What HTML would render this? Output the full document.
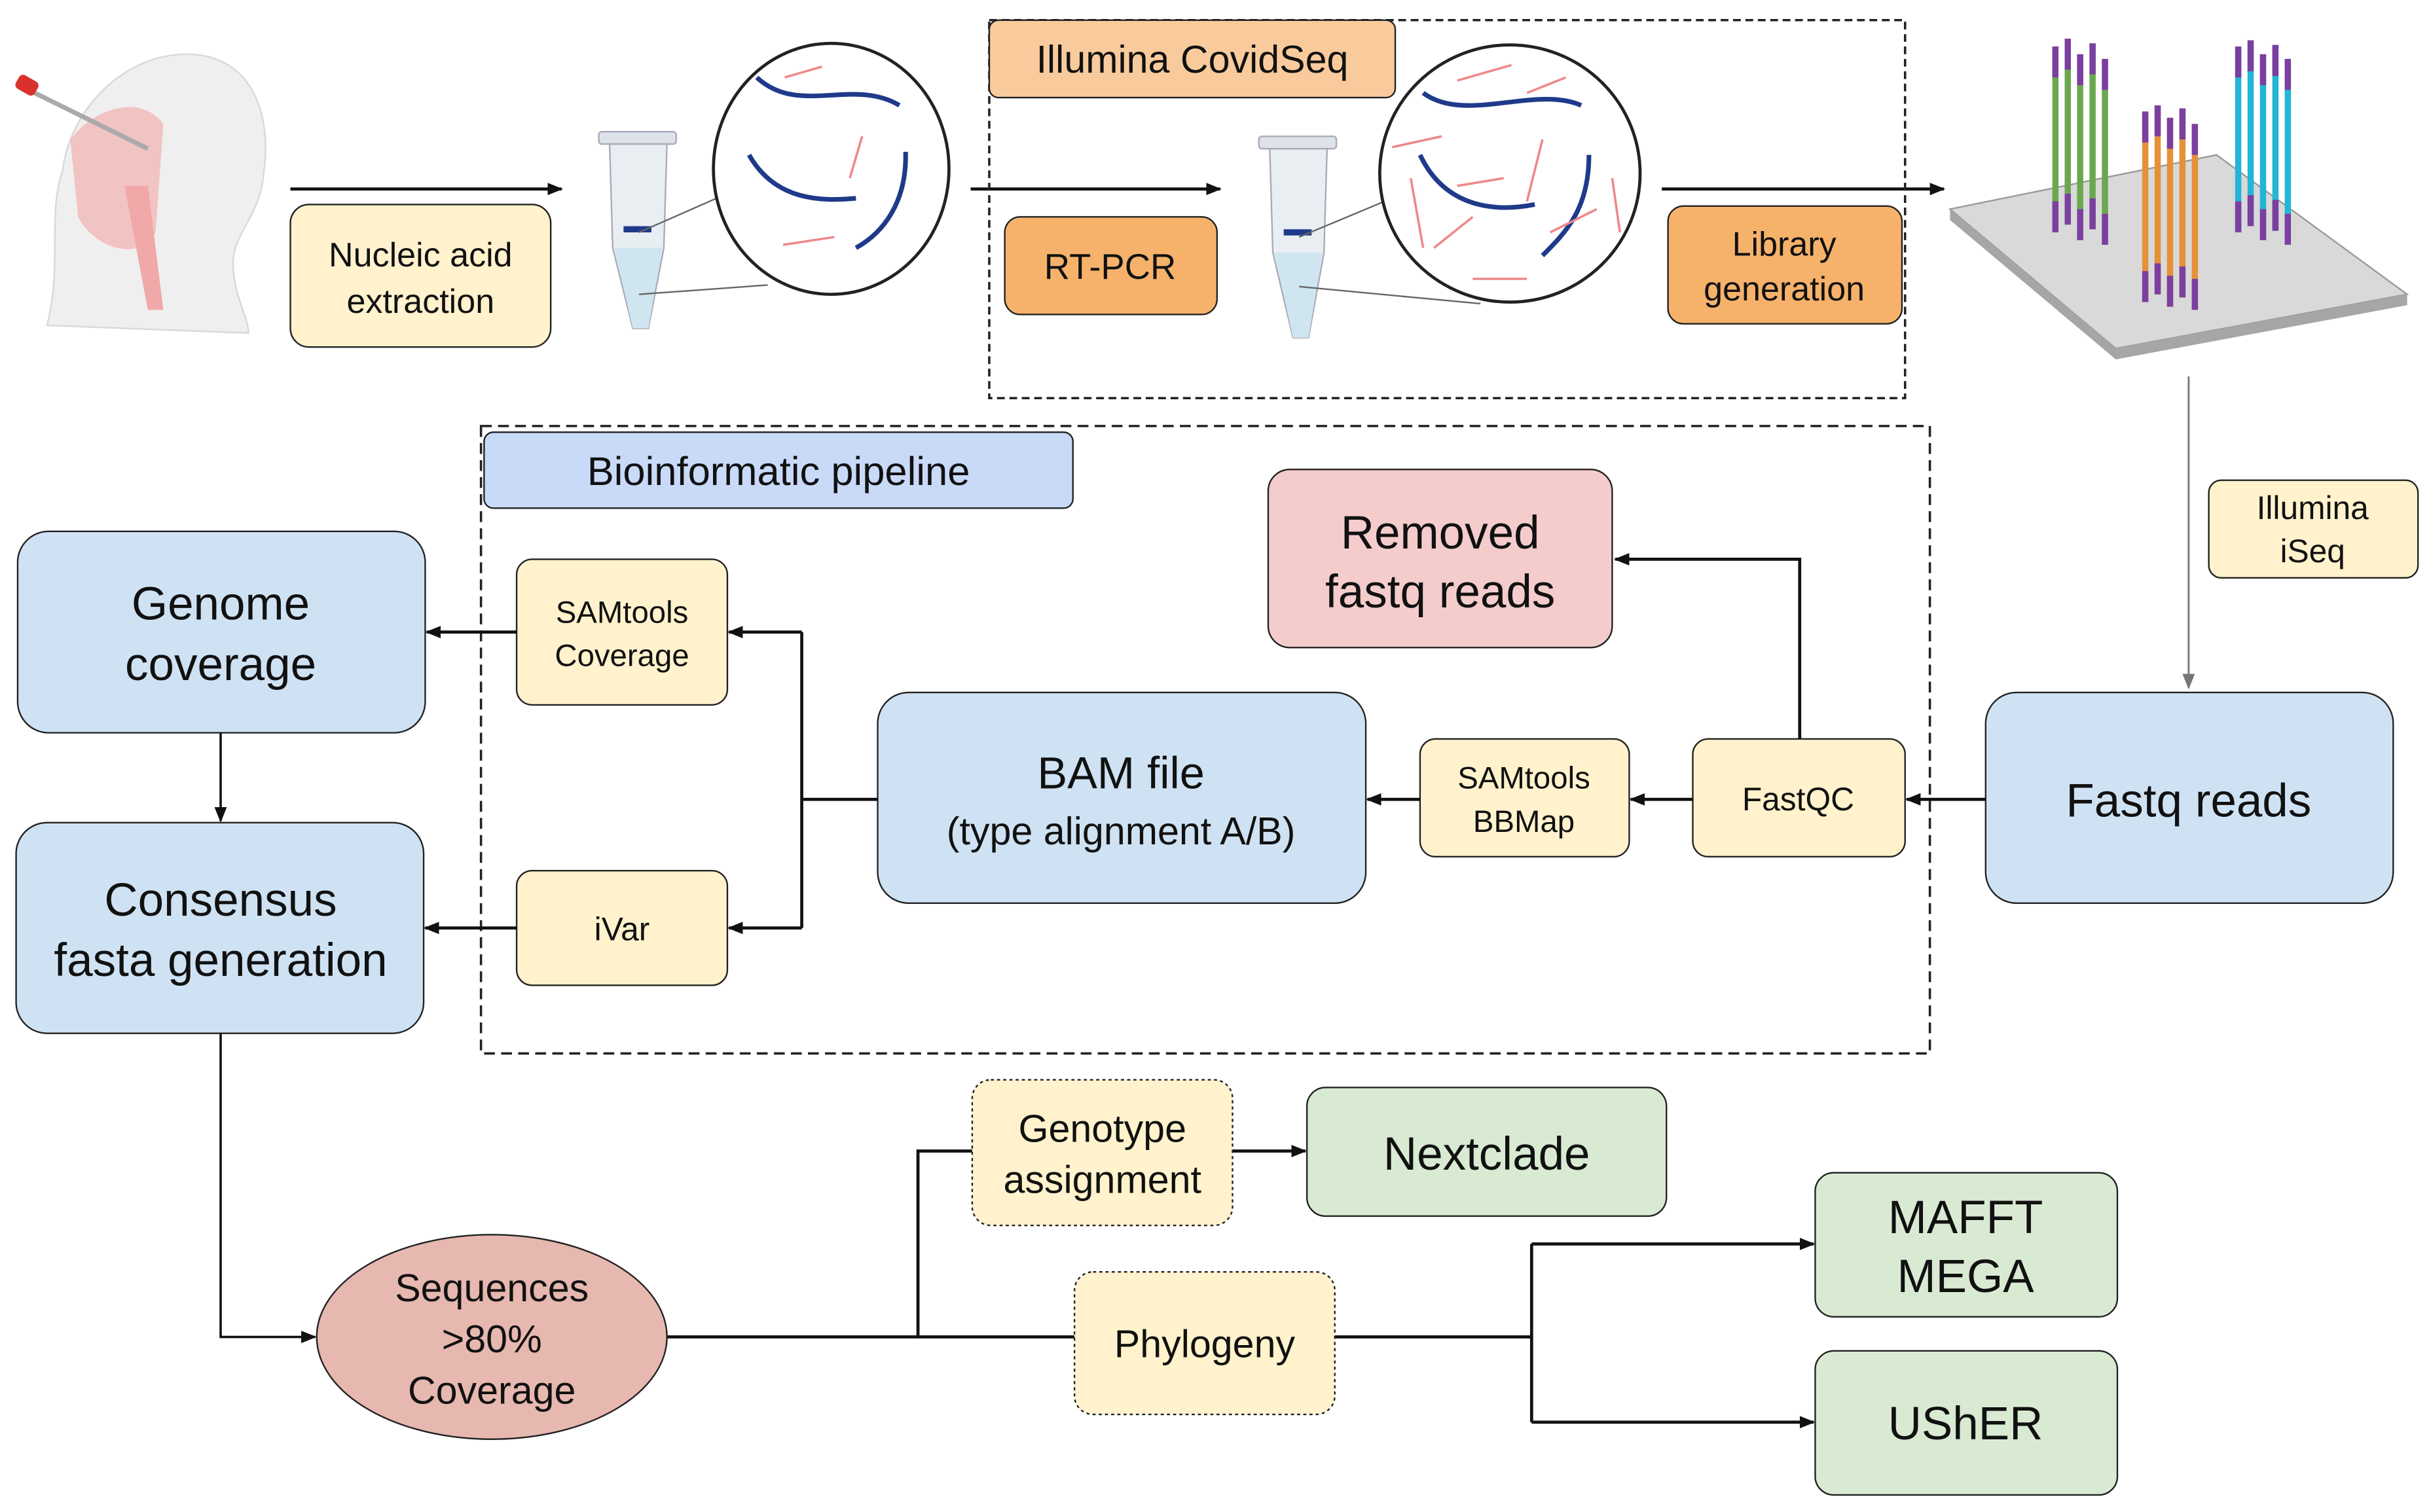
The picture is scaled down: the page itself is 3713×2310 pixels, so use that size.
<!DOCTYPE html>
<html><head><meta charset="utf-8"><style>
html,body{margin:0;padding:0;background:#fff;}
svg{display:block;}
text{font-family:"Liberation Sans",Arial,sans-serif;fill:#111;}
</style></head><body>
<svg width="3713" height="2310" viewBox="0 0 1568 976" xmlns="http://www.w3.org/2000/svg">
<defs>
<marker id="a" markerWidth="10" markerHeight="10" refX="9" refY="5" orient="auto" markerUnits="userSpaceOnUse"><path d="M0,1 L10,5 L0,9 Z" fill="#111"/></marker>
<marker id="g" markerWidth="10" markerHeight="10" refX="9" refY="5" orient="auto" markerUnits="userSpaceOnUse"><path d="M1,0 L5,10 L9,0 Z" transform="rotate(-90 5 5)" fill="#777"/></marker>
</defs>
<rect width="1568" height="976" fill="#fff"/>

<!-- head illustration -->
<g>
<path d="M30,210 C40,170 30,140 40,110 C45,70 80,35 120,35 C160,35 175,70 170,110 C168,140 150,150 150,170 C150,190 160,205 160,215 Z" fill="#efefef" stroke="#d8d8d8"/>
<path d="M45,90 C60,70 90,60 105,80 L100,150 C90,170 60,160 50,140 Z" fill="#f2b8b8" opacity="0.8"/>
<path d="M80,120 L95,200 L105,200 L95,120 Z" fill="#f0a8a8"/>
<line x1="18" y1="58" x2="95" y2="96" stroke="#aaa" stroke-width="3"/>
<rect x="10" y="50" width="14" height="10" rx="3" fill="#d9312b" transform="rotate(30 17 55)"/>
</g>

<!-- arrows top -->
<line x1="187" y1="122" x2="362" y2="122" stroke="#111" stroke-width="2" marker-end="url(#a)"/>
<line x1="626" y1="122" x2="787" y2="122" stroke="#111" stroke-width="2" marker-end="url(#a)"/>
<line x1="1072" y1="122" x2="1254" y2="122" stroke="#111" stroke-width="2" marker-end="url(#a)"/>

<!-- box: nucleic acid -->
<rect x="187" y="132" width="168" height="92" rx="12" fill="#fff2cc" stroke="#222"/>
<text x="271" y="172" font-size="22" text-anchor="middle">Nucleic acid</text>
<text x="271" y="202" font-size="22" text-anchor="middle">extraction</text>

<!-- tube 1 -->
<g>
<rect x="386" y="85" width="50" height="8" rx="2" fill="#dde3e8" stroke="#aab"/>
<path d="M393,93 L430,93 L428,160 L418,212 L408,212 L395,160 Z" fill="#e8eef2" stroke="#aab"/>
<path d="M396,160 L427,160 L418,212 L408,212 Z" fill="#cfe6f0"/>
<rect x="402" y="146" width="18" height="4" fill="#1f3a8a"/>
<line x1="412" y1="150" x2="462" y2="128" stroke="#666"/>
<line x1="412" y1="190" x2="495" y2="184" stroke="#666"/>
</g>
<ellipse cx="536" cy="109" rx="76" ry="81" fill="#fff" stroke="#222" stroke-width="2"/>
<path d="M488,50 C515,75 550,50 580,68" stroke="#1f3a8a" stroke-width="3" fill="none"/>
<path d="M483,100 C500,130 530,130 552,128" stroke="#1f3a8a" stroke-width="3" fill="none"/>
<path d="M584,98 C585,130 570,150 552,160" stroke="#1f3a8a" stroke-width="3" fill="none"/>
<line x1="506" y1="50" x2="530" y2="43" stroke="#e88" stroke-width="1.5"/>
<line x1="556" y1="88" x2="548" y2="115" stroke="#e88" stroke-width="1.5"/>
<line x1="505" y1="158" x2="538" y2="153" stroke="#e88" stroke-width="1.5"/>

<!-- CovidSeq dashed box -->
<rect x="638" y="13" width="591" height="244" fill="none" stroke="#222" stroke-width="1.5" stroke-dasharray="5,3"/>
<rect x="638" y="13" width="262" height="50" rx="6" fill="#f9cb9c" stroke="#222"/>
<text x="769" y="47" font-size="25" text-anchor="middle">Illumina CovidSeq</text>
<rect x="648" y="140" width="137" height="63" rx="10" fill="#f6b26b" stroke="#222"/>
<text x="716" y="180" font-size="23" text-anchor="middle">RT-PCR</text>
<rect x="1076" y="133" width="151" height="76" rx="10" fill="#f6b26b" stroke="#222"/>
<text x="1151" y="165" font-size="22" text-anchor="middle">Library</text>
<text x="1151" y="194" font-size="22" text-anchor="middle">generation</text>

<!-- tube 2 -->
<g>
<rect x="812" y="88" width="50" height="8" rx="2" fill="#dde3e8" stroke="#aab"/>
<path d="M819,96 L856,96 L854,163 L844,218 L834,218 L821,163 Z" fill="#e8eef2" stroke="#aab"/>
<path d="M822,163 L853,163 L844,218 L834,218 Z" fill="#cfe6f0"/>
<rect x="828" y="148" width="18" height="4" fill="#1f3a8a"/>
<line x1="838" y1="153" x2="893" y2="130" stroke="#666"/>
<line x1="838" y1="185" x2="955" y2="196" stroke="#666"/>
</g>
<ellipse cx="974" cy="112" rx="84" ry="83" fill="#fff" stroke="#222" stroke-width="2"/>
<path d="M918,60 C945,80 990,55 1020,68" stroke="#1f3a8a" stroke-width="3" fill="none"/>
<path d="M916,100 C935,140 975,135 990,132" stroke="#1f3a8a" stroke-width="3" fill="none"/>
<path d="M1025,100 C1025,135 1010,150 995,165" stroke="#1f3a8a" stroke-width="3" fill="none"/>
<g stroke="#e88" stroke-width="1.5">
<line x1="940" y1="52" x2="975" y2="42"/><line x1="985" y1="60" x2="1010" y2="50"/>
<line x1="898" y1="95" x2="930" y2="88"/><line x1="995" y1="90" x2="985" y2="130"/>
<line x1="910" y1="115" x2="918" y2="160"/><line x1="940" y1="120" x2="970" y2="115"/>
<line x1="925" y1="160" x2="950" y2="140"/><line x1="1040" y1="115" x2="1045" y2="150"/>
<line x1="950" y1="180" x2="985" y2="180"/><line x1="1000" y1="150" x2="1030" y2="135"/>
</g>

<!-- flow cell -->
<path d="M1258,135 L1430,100 L1553,190 L1365,225 Z" fill="#d9d9d9" stroke="#999"/>
<path d="M1258,135 L1258,142 L1365,232 L1553,197 L1553,190 L1365,225 Z" fill="#a6a6a6"/>
<g stroke-width="4">
<line x1="1326" y1="30" x2="1326" y2="150" stroke="#6aa84f"/><line x1="1334" y1="25" x2="1334" y2="145" stroke="#6aa84f"/>
<line x1="1342" y1="35" x2="1342" y2="155" stroke="#6aa84f"/><line x1="1350" y1="28" x2="1350" y2="148" stroke="#6aa84f"/>
<line x1="1358" y1="38" x2="1358" y2="158" stroke="#6aa84f"/>
<line x1="1384" y1="72" x2="1384" y2="195" stroke="#e69138"/><line x1="1392" y1="68" x2="1392" y2="190" stroke="#e69138"/>
<line x1="1400" y1="76" x2="1400" y2="198" stroke="#e69138"/><line x1="1408" y1="70" x2="1408" y2="192" stroke="#e69138"/>
<line x1="1416" y1="80" x2="1416" y2="200" stroke="#e69138"/>
<line x1="1444" y1="30" x2="1444" y2="150" stroke="#22b5d6"/><line x1="1452" y1="26" x2="1452" y2="146" stroke="#22b5d6"/>
<line x1="1460" y1="35" x2="1460" y2="155" stroke="#22b5d6"/><line x1="1468" y1="29" x2="1468" y2="149" stroke="#22b5d6"/>
<line x1="1476" y1="38" x2="1476" y2="158" stroke="#22b5d6"/>
</g>
<g stroke="#7b3fa0" stroke-width="4">
<line x1="1326" y1="30" x2="1326" y2="50"/><line x1="1334" y1="25" x2="1334" y2="45"/><line x1="1342" y1="35" x2="1342" y2="55"/><line x1="1350" y1="28" x2="1350" y2="48"/><line x1="1358" y1="38" x2="1358" y2="58"/>
<line x1="1326" y1="130" x2="1326" y2="150"/><line x1="1334" y1="125" x2="1334" y2="145"/><line x1="1342" y1="135" x2="1342" y2="155"/><line x1="1350" y1="128" x2="1350" y2="148"/><line x1="1358" y1="138" x2="1358" y2="158"/>
<line x1="1384" y1="72" x2="1384" y2="92"/><line x1="1392" y1="68" x2="1392" y2="88"/><line x1="1400" y1="76" x2="1400" y2="96"/><line x1="1408" y1="70" x2="1408" y2="90"/><line x1="1416" y1="80" x2="1416" y2="100"/>
<line x1="1384" y1="175" x2="1384" y2="195"/><line x1="1392" y1="170" x2="1392" y2="190"/><line x1="1400" y1="178" x2="1400" y2="198"/><line x1="1408" y1="172" x2="1408" y2="192"/><line x1="1416" y1="180" x2="1416" y2="200"/>
<line x1="1444" y1="30" x2="1444" y2="50"/><line x1="1452" y1="26" x2="1452" y2="46"/><line x1="1460" y1="35" x2="1460" y2="55"/><line x1="1468" y1="29" x2="1468" y2="49"/><line x1="1476" y1="38" x2="1476" y2="58"/>
<line x1="1444" y1="130" x2="1444" y2="150"/><line x1="1452" y1="126" x2="1452" y2="146"/><line x1="1460" y1="135" x2="1460" y2="155"/><line x1="1468" y1="129" x2="1468" y2="149"/><line x1="1476" y1="138" x2="1476" y2="158"/>
</g>

<!-- iSeq -->
<line x1="1412" y1="243" x2="1412" y2="444" stroke="#777" stroke-width="1.2"/>
<path d="M1408,435 L1412,445 L1416,435 Z" fill="#777"/>
<rect x="1425" y="310" width="135" height="63" rx="8" fill="#fff2cc" stroke="#222"/>
<text x="1492" y="335" font-size="21" text-anchor="middle">Illumina</text>
<text x="1492" y="363" font-size="21" text-anchor="middle">iSeq</text>

<!-- pipeline box -->
<rect x="310" y="275" width="935" height="405" fill="none" stroke="#222" stroke-width="1.5" stroke-dasharray="7,4"/>
<rect x="312" y="279" width="380" height="49" rx="6" fill="#c9daf8" stroke="#222"/>
<text x="502" y="313" font-size="26" text-anchor="middle">Bioinformatic pipeline</text>

<rect x="818" y="303" width="222" height="115" rx="14" fill="#f4cccc" stroke="#222"/>
<text x="929" y="354" font-size="30" text-anchor="middle">Removed</text>
<text x="929" y="392" font-size="30" text-anchor="middle">fastq reads</text>

<rect x="11" y="343" width="263" height="130" rx="20" fill="#cfe2f3" stroke="#222"/>
<text x="142" y="400" font-size="30" text-anchor="middle">Genome</text>
<text x="142" y="439" font-size="30" text-anchor="middle">coverage</text>

<rect x="333" y="361" width="136" height="94" rx="10" fill="#fff2cc" stroke="#222"/>
<text x="401" y="402" font-size="20" text-anchor="middle">SAMtools</text>
<text x="401" y="430" font-size="20" text-anchor="middle">Coverage</text>

<rect x="566" y="447" width="315" height="136" rx="20" fill="#cfe2f3" stroke="#222"/>
<text x="723" y="509" font-size="29" text-anchor="middle">BAM file</text>
<text x="723" y="545" font-size="25" text-anchor="middle">(type alignment A/B)</text>

<rect x="916" y="477" width="135" height="76" rx="10" fill="#fff2cc" stroke="#222"/>
<text x="983" y="509" font-size="20" text-anchor="middle">SAMtools</text>
<text x="983" y="537" font-size="20" text-anchor="middle">BBMap</text>

<rect x="1092" y="477" width="137" height="76" rx="10" fill="#fff2cc" stroke="#222"/>
<text x="1160" y="523" font-size="21" text-anchor="middle">FastQC</text>

<rect x="1281" y="447" width="263" height="136" rx="20" fill="#cfe2f3" stroke="#222"/>
<text x="1412" y="527" font-size="30" text-anchor="middle">Fastq reads</text>

<rect x="10" y="531" width="263" height="136" rx="20" fill="#cfe2f3" stroke="#222"/>
<text x="142" y="591" font-size="30" text-anchor="middle">Consensus</text>
<text x="142" y="630" font-size="30" text-anchor="middle">fasta generation</text>

<rect x="333" y="562" width="136" height="74" rx="10" fill="#fff2cc" stroke="#222"/>
<text x="401" y="607" font-size="21" text-anchor="middle">iVar</text>

<!-- pipeline connectors -->
<g stroke="#111" stroke-width="2" fill="none">
<line x1="142" y1="473" x2="142" y2="530" stroke-width="1.5" marker-end="url(#a)"/>
<line x1="333" y1="408" x2="275" y2="408" marker-end="url(#a)"/>
<line x1="333" y1="599" x2="274" y2="599" marker-end="url(#a)"/>
<line x1="566" y1="516" x2="517" y2="516"/>
<line x1="517" y1="408" x2="517" y2="599"/>
<line x1="517" y1="408" x2="470" y2="408" marker-end="url(#a)"/>
<line x1="517" y1="599" x2="470" y2="599" marker-end="url(#a)"/>
<line x1="916" y1="516" x2="882" y2="516" marker-end="url(#a)"/>
<line x1="1092" y1="516" x2="1052" y2="516" marker-end="url(#a)"/>
<line x1="1281" y1="516" x2="1230" y2="516" marker-end="url(#a)"/>
<polyline points="1161,477 1161,361 1042,361" marker-end="url(#a)"/>
<polyline points="142,667 142,863 203,863" stroke-width="1.5" marker-end="url(#a)"/>
<line x1="430" y1="863" x2="693" y2="863"/>
<polyline points="592,863 592,743 627,743"/>
<line x1="795" y1="743" x2="842" y2="743" marker-end="url(#a)"/>
<line x1="861" y1="863" x2="988" y2="863"/>
<polyline points="988,803 988,918"/>
<line x1="988" y1="803" x2="1170" y2="803" marker-end="url(#a)"/>
<line x1="988" y1="918" x2="1170" y2="918" marker-end="url(#a)"/>
</g>

<ellipse cx="317" cy="863" rx="113" ry="66" fill="#e6b8af" stroke="#222"/>
<text x="317" y="840" font-size="25" text-anchor="middle">Sequences</text>
<text x="317" y="873" font-size="25" text-anchor="middle">&gt;80%</text>
<text x="317" y="906" font-size="25" text-anchor="middle">Coverage</text>

<rect x="627" y="697" width="168" height="94" rx="12" fill="#fff2cc" stroke="#222" stroke-dasharray="2,2"/>
<text x="711" y="737" font-size="25" text-anchor="middle">Genotype</text>
<text x="711" y="770" font-size="25" text-anchor="middle">assignment</text>

<rect x="843" y="702" width="232" height="83" rx="12" fill="#d9ead3" stroke="#222"/>
<text x="959" y="755" font-size="30" text-anchor="middle">Nextclade</text>

<rect x="693" y="821" width="168" height="92" rx="12" fill="#fff2cc" stroke="#222" stroke-dasharray="2,2"/>
<text x="777" y="876" font-size="25" text-anchor="middle">Phylogeny</text>

<rect x="1171" y="757" width="195" height="93" rx="12" fill="#d9ead3" stroke="#222"/>
<text x="1268" y="796" font-size="30" text-anchor="middle">MAFFT</text>
<text x="1268" y="834" font-size="30" text-anchor="middle">MEGA</text>

<rect x="1171" y="872" width="195" height="93" rx="12" fill="#d9ead3" stroke="#222"/>
<text x="1268" y="929" font-size="30" text-anchor="middle">UShER</text>
</svg>
</body></html>
